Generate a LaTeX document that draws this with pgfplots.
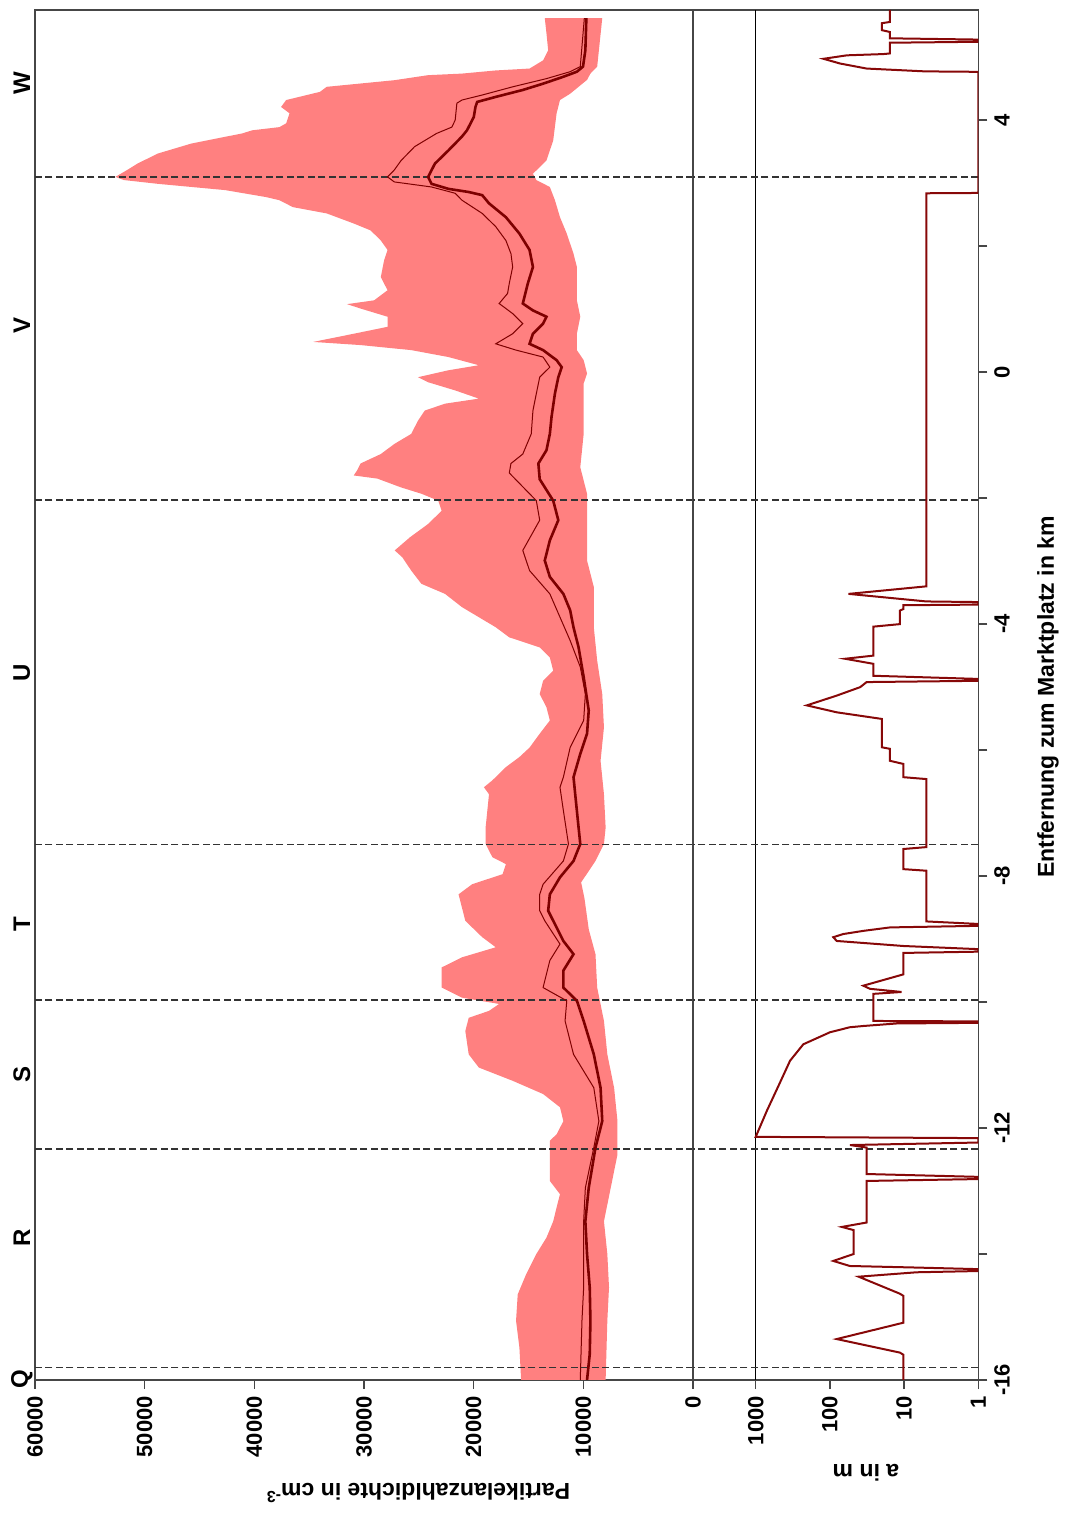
\documentclass[border=0pt]{standalone}
\usepackage{fontspec}
\setmainfont{Liberation Sans}
\usepackage{pgfplots}
\pgfplotsset{compat=1.18}
\usepgfplotslibrary{fillbetween}
\definecolor{bandpink}{RGB}{255,128,128}
\definecolor{darkred}{RGB}{125,0,0}
\definecolor{curvered}{RGB}{135,8,8}
\definecolor{framegray}{RGB}{70,70,70}
\newcommand\tfont{\bfseries\fontsize{11}{13}\selectfont}
\newcommand\lfont{\bfseries\fontsize{11.5}{14}\selectfont}
\begin{document}
\begin{tikzpicture}
\pgfplotsset{
  common/.style={
    scale only axis, height=685pt,
    ymin=-16, ymax=5.75,
    axis line style={framegray, line width=0.75pt},
    tick style={framegray, line width=0.75pt},
    tick align=outside, major tick length=4.5pt, minor tick length=0pt,
    /pgf/number format/assume math mode=true,
    ticklabel style={font=\tfont},
    clip mode=individual,
  },
  dash/.style={draw=black!80, line width=0.7pt, dash pattern=on 3.5pt off 1.75pt},
}
% ---------------- density panel ----------------
\begin{axis}[common, at={(17.5pt,69pt)}, anchor=south west, width=329pt,
  xmin=0, xmax=60000, x dir=reverse,
  xtick={0,10000,20000,30000,40000,50000,60000},
  xticklabels={0,10000,20000,30000,40000,50000,60000},
  scaled x ticks=false, xtick pos=left,
  xticklabel style={rotate=90, anchor=east},
  ytick=\empty]
\addplot[draw=none, name path=up] coordinates {
(13516,5.62) (13362,5.38) (13208,5.11) (13670,4.95) (14903,4.82) (17986,4.79) (21069,4.74) (24152,4.715) (27235,4.635) (33401,4.53) (34018,4.45) (37099,4.32) (37563,4.21) (36792,4.11) (37099,3.95) (37717,3.89) (40184,3.84) (41108,3.79) (45733,3.63) (48816,3.47) (50666,3.31) (51591,3.21) (52670,3.10) (51899,3.05) (48816,2.99) (42650,2.89) (38950,2.78) (37717,2.73) (36484,2.62) (33401,2.52) (30935,2.36) (29393,2.25) (28468,2.09) (27852,1.94) (28160,1.78) (28468,1.51) (27852,1.30) (29085,1.14) (31551,1.08) (30318,1.01) (27852,0.88) (27852,0.72) (30935,0.61) (34634,0.48) (30318,0.43) (25694,0.35) (22302,0.24) (19527,0.11) (22302,0.03) (25077,-0.08) (24152,-0.16) (21686,-0.29) (19527,-0.42) (22610,-0.50) (24460,-0.61) (25077,-0.77) (25694,-0.98) (27235,-1.14) (28468,-1.30) (30318,-1.45) (30626,-1.56) (30935,-1.64) (28776,-1.69) (26618,-1.83) (24768,-1.93) (23227,-2.04) (22919,-2.20) (24152,-2.41) (25800,-2.62) (27200,-2.83) (26500,-2.94) (25694,-3.15) (24768,-3.36) (22610,-3.52) (21069,-3.73) (19527,-3.89) (17986,-4.05) (16753,-4.21) (13978,-4.37) (13053,-4.53) (12745,-4.74) (13670,-4.90) (13978,-5.11) (13362,-5.32) (13053,-5.53) (13978,-5.74) (14903,-5.96) (15828,-6.11) (17061,-6.27) (18294,-6.48) (19065,-6.59) (18602,-6.70) (18911,-7.23) (18911,-7.49) (18294,-7.70) (17061,-7.81) (17369,-7.97) (20144,-8.13) (21377,-8.29) (21069,-8.50) (20761,-8.71) (19219,-8.97) (17986,-9.13) (21069,-9.29) (22919,-9.45) (22919,-9.77) (21069,-9.93) (17677,-10.03) (18602,-10.14) (20452,-10.25) (20761,-10.46) (20452,-10.83) (19527,-11.04) (16444,-11.25) (13670,-11.46) (12129,-11.67) (11820,-11.89) (12437,-12.10) (13053,-12.20) (13053,-12.42) (13053,-12.84) (12129,-13.05) (12437,-13.26) (12745,-13.48) (13362,-13.74) (14286,-14.00) (15211,-14.32) (15982,-14.64) (16136,-15.06) (15828,-15.49) (15674,-16.0)
};
\addplot[draw=none, name path=lo] coordinates {
(8275,5.62) (8737,4.85) (9354,4.74) (9662,4.64) (11204,4.42) (12129,4.32) (12437,4.11) (12745,3.68) (13362,3.36) (14595,3.15) (14286,3.05) (13053,2.94) (12590,2.73) (12129,2.46) (11512,2.20) (10895,1.88) (10587,1.67) (10587,1.14) (10279,0.88) (10587,0.61) (10587,0.35) (9970,0.19) (9662,-0.02) (9970,-0.18) (9970,-0.98) (10279,-1.51) (9662,-1.93) (9662,-2.99) (9045,-3.41) (9045,-4.05) (8737,-4.58) (8275,-5.11) (8120,-5.64) (8429,-6.17) (8120,-6.70) (7966,-7.23) (8120,-7.49) (8891,-7.76) (10200,-8.10) (9900,-8.35) (9500,-8.85) (8891,-9.24) (8737,-9.77) (8120,-10.30) (7812,-10.83) (7195,-11.36) (6887,-11.89) (6887,-12.42) (7503,-12.95) (8120,-13.48) (7812,-14.00) (7658,-14.53) (7812,-15.06) (7966,-16.0)
};
\addplot[fill=bandpink, draw=none] fill between[of=up and lo, reverse=true];
\addplot[dash] coordinates {(0,-15.80) (60000,-15.80)};
\addplot[dash] coordinates {(0,-12.33) (60000,-12.33)};
\addplot[dash] coordinates {(0,-9.97) (60000,-9.97)};
\addplot[dash] coordinates {(0,-7.50) (60000,-7.50)};
\addplot[dash] coordinates {(0,-2.03) (60000,-2.03)};
\addplot[dash] coordinates {(0,3.10) (60000,3.10)};
% thin line
\addplot[darkred, line width=0.5pt] coordinates {
(9909,5.62) (10279,4.85) (11204,4.77) (13362,4.66) (16444,4.53) (19219,4.40) (21069,4.32) (21531,4.27) (21686,4.00) (21994,3.89) (23382,3.79) (25385,3.58) (26618,3.36) (27235,3.21) (27852,3.10) (27235,3.02) (23845,2.94) (21686,2.84) (21069,2.73) (19219,2.52) (17986,2.31) (17061,2.09) (16598,1.88) (16444,1.67) (16752,1.41) (16907,1.25) (17677,1.09) (16444,0.93) (15520,0.77) (16444,0.61) (17986,0.45) (16136,0.35) (13670,0.24) (13053,0.08) (13978,-0.08) (14286,-0.34) (14595,-0.61) (14749,-0.98) (15520,-1.30) (16600,-1.45) (16752,-1.60) (14286,-2.04) (13978,-2.35) (15520,-2.83) (14903,-3.15) (13053,-3.52) (12129,-3.89) (11204,-4.26) (10279,-4.68) (9816,-5.11) (9970,-5.53) (11204,-5.96) (11820,-6.43) (12129,-6.59) (11820,-6.96) (11358,-7.49) (11820,-7.76) (13670,-8.13) (13978,-8.29) (13978,-8.55) (13516,-8.71) (12129,-9.08) (13053,-9.34) (13670,-9.77) (11512,-9.98) (11666,-10.30) (10895,-10.83) (9045,-11.36) (8583,-11.89) (9045,-12.31) (9816,-12.95) (9970,-13.48) (9970,-14.00) (9970,-14.53) (10125,-15.06) (10279,-16.0)
};
% thick line
\addplot[darkred, line width=1.3pt] coordinates {
(9724,5.62) (9816,5.11) (10032,4.85) (10587,4.77) (11820,4.69) (13670,4.58) (15520,4.48) (17986,4.37) (19682,4.29) (19836,4.21) (19990,4.05) (20607,3.84) (21069,3.74) (22302,3.52) (23536,3.31) (24152,3.10) (23845,2.99) (22302,2.91) (20452,2.86) (19219,2.81) (18602,2.68) (17061,2.46) (15828,2.20) (14903,1.94) (14595,1.67) (15057,1.41) (15520,1.09) (14595,0.98) (13362,0.88) (13670,0.77) (14595,0.61) (14903,0.45) (13670,0.35) (12437,0.19) (11974,0.08) (12282,-0.08) (12590,-0.34) (12899,-0.71) (13053,-0.98) (13362,-1.24) (14100,-1.45) (13978,-1.70) (12745,-2.04) (12282,-2.35) (13053,-2.67) (13516,-2.99) (13053,-3.25) (11820,-3.52) (11204,-3.78) (10895,-4.05) (10433,-4.37) (9970,-4.84) (9508,-5.37) (9662,-5.74) (10279,-6.06) (10895,-6.43) (10741,-6.70) (10433,-7.23) (10279,-7.49) (10895,-7.76) (12129,-8.02) (13053,-8.29) (13207,-8.55) (12745,-8.71) (11820,-9.03) (10895,-9.24) (11820,-9.50) (11820,-9.77) (10587,-9.98) (9970,-10.30) (9045,-10.83) (8429,-11.36) (8275,-11.89) (8891,-12.31) (9508,-12.95) (9816,-13.48) (9662,-14.00) (9416,-14.53) (9354,-15.06) (9416,-15.59) (9662,-16.0)
};
\node[rotate=90, font=\bfseries\fontsize{12}{14}\selectfont] at (axis cs:61200,-15.98) {Q};
\node[rotate=90, font=\bfseries\fontsize{12}{14}\selectfont] at (axis cs:61200,-13.74) {R};
\node[rotate=90, font=\bfseries\fontsize{12}{14}\selectfont] at (axis cs:61200,-11.15) {S};
\node[rotate=90, font=\bfseries\fontsize{12}{14}\selectfont] at (axis cs:61200,-8.76) {T};
\node[rotate=90, font=\bfseries\fontsize{12}{14}\selectfont] at (axis cs:61200,-4.78) {U};
\node[rotate=90, font=\bfseries\fontsize{12}{14}\selectfont] at (axis cs:61200,0.74) {V};
\node[rotate=90, font=\bfseries\fontsize{12}{14}\selectfont] at (axis cs:61200,4.59) {W};
\end{axis}
% ---------------- distance-to-road panel ----------------
\begin{axis}[common, at={(346.5pt,69pt)}, anchor=south west, width=142.65pt,
  xmode=log, xmin=1, xmax=7000, x dir=reverse,
  xtick={1,10,100,1000}, xticklabels={1,10,100,1000},
  xtick pos=left, xticklabel style={rotate=90, anchor=east},
  ytick={-16,-14,-12,-10,-8,-6,-4,-2,0,2,4},
  yticklabels={-16,{},-12,{},-8,{},-4,{},0,{},4},
  ytick pos=right, yticklabel pos=right,
  yticklabel style={rotate=90, anchor=north}]
\addplot[black, line width=0.6pt] coordinates {(1000,-16) (1000,5.75)};
\addplot[dash] coordinates {(1,-15.80) (7000,-15.80)};
\addplot[dash] coordinates {(1,-12.33) (7000,-12.33)};
\addplot[dash] coordinates {(1,-9.97) (7000,-9.97)};
\addplot[dash] coordinates {(1,-7.50) (7000,-7.50)};
\addplot[dash] coordinates {(1,-2.03) (7000,-2.03)};
\addplot[dash] coordinates {(1,3.10) (7000,3.10)};
\addplot[curvered, line width=1pt] coordinates {
(15.5,5.75) (15.5,5.56) (20,5.54) (20,5.43) (15.5,5.40) (15.5,5.30) (1,5.28) (1,5.245) (15.5,5.23) (15.5,5.06) (19,5.05) (59,5.03) (100,4.99) (122,4.975) (73,4.90) (32,4.82) (5.2,4.775) (1,4.768) (1,2.845) (5,2.84) (5,-3.40) (56,-3.52) (5,-3.64) (1,-3.65) (1,-3.69) (10.2,-3.70) (10.2,-3.76) (11.4,-3.785) (11.4,-4.00) (26,-4.04) (26,-4.50) (62.5,-4.55) (26,-4.63) (26,-4.82) (1,-4.87) (1,-4.90) (32,-4.92) (39,-5.00) (81,-5.135) (205,-5.29) (81,-5.40) (20,-5.505) (20,-5.955) (15.5,-5.98) (15.5,-6.17) (10.2,-6.22) (10.2,-6.43) (5,-6.46) (5,-7.54) (10.2,-7.57) (10.2,-7.89) (5,-7.915) (5,-8.72) (1,-8.76) (1,-8.79) (15.5,-8.815) (35.5,-8.87) (66,-8.92) (90,-8.97) (81,-9.03) (10.2,-9.11) (1,-9.16) (1,-9.20) (10.2,-9.22) (10.2,-9.56) (35.5,-9.74) (28.8,-9.79) (10.8,-9.84) (26,-9.87) (26,-10.30) (1,-10.307) (1,-10.33) (12.6,-10.34) (35.5,-10.38) (54,-10.40) (100,-10.48) (228,-10.67) (344,-10.93) (480,-11.30) (710,-11.73) (1000,-12.14) (1,-12.16) (1,-12.23) (53.6,-12.27) (32,-12.31) (32,-12.73) (1,-12.775) (1,-12.81) (32,-12.84) (32,-13.50) (69,-13.57) (48,-13.62) (48,-14.00) (90,-14.11) (54,-14.19) (6.8,-14.215) (1,-14.24) (1,-14.27) (6.8,-14.29) (41,-14.36) (11.4,-14.63) (10.2,-14.665) (10.2,-15.09) (81,-15.35) (11.4,-15.565) (10.2,-15.60) (10.2,-16.0)
};
\end{axis}
\node[rotate=180, font=\lfont] at (209pt,12.5pt) {Partikelanzahldichte in cm\textsuperscript{-3}};
\node[rotate=180, font=\lfont] at (433pt,22.5pt) {a in m};
\node[rotate=90, font=\lfont] at (524pt,410.5pt) {Entfernung zum Marktplatz in km};
\path (0,0) rectangle (532.5pt,759pt);
\end{tikzpicture}
\end{document}
